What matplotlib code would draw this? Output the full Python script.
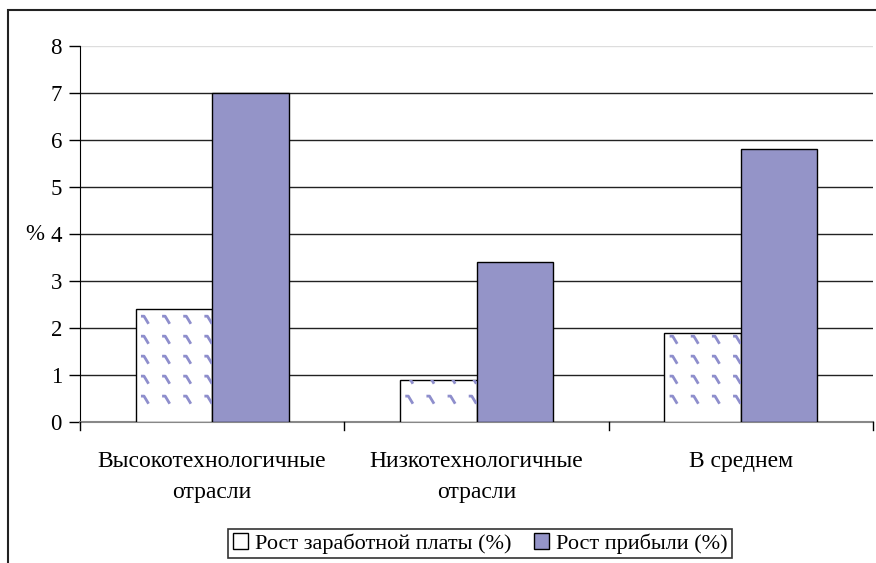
import numpy as np
import matplotlib
matplotlib.use("Agg")
import matplotlib.pyplot as plt
from matplotlib.patches import Rectangle, Patch
from matplotlib.path import Path

categories = ["Высокотехнологичные\nотрасли", "Низкотехнологичные\nотрасли", "В среднем"]
wage_growth = [2.4, 0.9, 1.9]
profit_growth = [7.0, 3.4, 5.8]
series_labels = ["Рост заработной платы (%)", "Рост прибыли (%)"]
y_ticks = [0, 1, 2, 3, 4, 5, 6, 7, 8]

PURPLE = "#9494C8"
PATTERN = "#8E8ECC"

plt.rcParams["font.family"] = "serif"
plt.rcParams["font.serif"] = ["Liberation Serif", "Times New Roman", "Tinos",
                              "Noto Serif", "DejaVu Serif"]

W, H = 876, 563
fig = plt.figure(figsize=(W / 100, H / 100), dpi=100)
ax = fig.add_axes([80 / W, (H - 422) / H, (873 - 80) / W, (422 - 46) / H])

x = np.arange(len(categories))
bw = 0.29
wage_bars = ax.bar(x - bw / 2, wage_growth, bw, color="white", edgecolor="black",
                   linewidth=1.0, zorder=3)
profit_bars = ax.bar(x + bw / 2, profit_growth, bw, color=PURPLE, edgecolor="black",
                     linewidth=1.0, zorder=3)

# small diagonal strokes as a fill pattern inside the wage bars
stroke = Path([(-1, 1), (-0.2, 1), (1, -1)], [Path.MOVETO, Path.LINETO, Path.LINETO])
dx, dy = 0.08, 0.425
for b in wage_bars:
    xs = np.arange(b.get_x() + 0.035, b.get_x() + b.get_width(), dx)
    ys = np.arange(0.47, b.get_height(), dy)
    gx, gy = np.meshgrid(xs, ys)
    pts = ax.scatter(gx.ravel(), gy.ravel(), marker=stroke, s=30, facecolor="none",
                     edgecolor=PATTERN, linewidths=2.0, zorder=4)
    pts.set_clip_path(b)

ax.set_ylim(0, 8)
ax.set_xlim(-0.5, len(categories) - 0.5)
ax.set_yticks(y_ticks)
ax.set_yticklabels([str(t) for t in y_ticks], fontsize=16.5)
ax.tick_params(axis="y", direction="out", length=8, width=1, pad=5, colors="black")

ax.set_xticks(x)
ax.set_xticklabels(categories, fontsize=17, linespacing=1.6)
ax.tick_params(axis="x", length=0, pad=21)
for b in np.arange(-0.5, len(categories), 1.0):
    ax.plot([b, b], [0, -0.17], color="black", lw=1, clip_on=False, zorder=5)

ax.set_ylabel("%", rotation=0, fontsize=16.5, va="center", ha="right")
ax.yaxis.set_label_coords(-0.045, 0.5)

ax.yaxis.grid(True, color="#222222", linewidth=1.0, zorder=0)
ax.get_ygridlines()[-1].set_color("#dddddd")
ax.set_axisbelow(True)

for s in ["top", "right"]:
    ax.spines[s].set_visible(False)
ax.spines["left"].set_color("black")
ax.spines["bottom"].set_color("#888888")
ax.spines["bottom"].set_linewidth(1.5)

handles = [Patch(facecolor="white", edgecolor="black", linewidth=1.0),
           Patch(facecolor=PURPLE, edgecolor="black", linewidth=1.0)]
leg = fig.legend(handles, series_labels, loc="upper center", ncol=2,
                 bbox_to_anchor=(480 / W, (H - 529) / H), fontsize=16,
                 frameon=True, fancybox=False, edgecolor="black",
                 handlelength=0.7, handleheight=0.7, handletextpad=0.3,
                 columnspacing=1.0, borderpad=0.2, borderaxespad=0)
leg.get_frame().set_linewidth(1.2)

# outer chart frame
fig.patches.append(Rectangle((8 / W, -0.1), 1.1, (H - 10) / H + 0.1,
                             transform=fig.transFigure, fill=False,
                             edgecolor="#222222", linewidth=1.5))

fig.savefig("out.png", dpi=100)
plt.close(fig)
